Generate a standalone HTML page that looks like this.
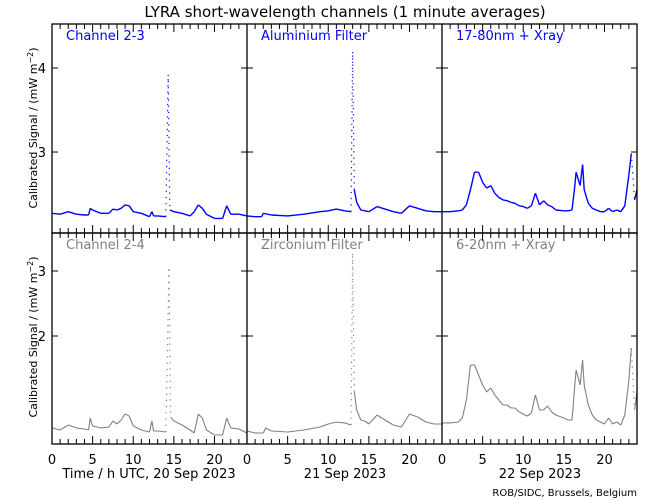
<!DOCTYPE html>
<html><head><meta charset="utf-8"><style>
body{margin:0;background:#fff}
svg{display:block;font-family:"DejaVu Sans","Liberation Sans",sans-serif}
</style></head><body>
<svg id="c" width="650" height="500" xmlns="http://www.w3.org/2000/svg">
<rect width="650" height="500" fill="#fff"/>
<text x="345" y="17" font-size="15" text-anchor="middle">LYRA short-wavelength channels (1 minute averages)</text>
<text transform="translate(37,128) rotate(-90)" font-size="11" text-anchor="middle">Calibrated Signal / (mW m<tspan dy="-4" font-size="8">−2</tspan><tspan dy="4">)</tspan></text>
<text transform="translate(37,337) rotate(-90)" font-size="11" text-anchor="middle">Calibrated Signal / (mW m<tspan dy="-4" font-size="8">−2</tspan><tspan dy="4">)</tspan></text>
<text x="149" y="478" font-size="13" text-anchor="middle">Time / h UTC, 20 Sep 2023</text>
<text x="345" y="478" font-size="13" text-anchor="middle">21 Sep 2023</text>
<text x="540" y="478" font-size="13" text-anchor="middle">22 Sep 2023</text>
<text x="637" y="496" font-size="10" text-anchor="end">ROB/SIDC, Brussels, Belgium</text>
<g id="plots"></g>
</svg>
<script>
// hours and values per panel
const hoursA=[0,1,2,3,4,4.5,4.7,5,6,7,7.5,8,8.5,9,9.5,10,11,12,12.3,12.5,13,14,14.3,14.5,15,16,17,17.5,18,18.5,19,20,21,21.5,22,23,24];
const valsA=[2.27,2.26,2.29,2.26,2.25,2.25,2.33,2.31,2.27,2.27,2.32,2.31,2.33,2.37,2.36,2.29,2.27,2.23,2.29,2.24,2.24,2.23,3.92,2.31,2.29,2.27,2.24,2.29,2.37,2.33,2.26,2.21,2.21,2.36,2.26,2.26,2.24];
const hoursB=[0,1,1.8,2,3,5,7,9,10,11,12,12.8,13.0,13.2,13.5,14,14.5,15,16,17,18,19,20,21,22,23,24];
const valsB=[2.24,2.23,2.23,2.27,2.25,2.24,2.26,2.29,2.30,2.32,2.30,2.29,4.19,2.55,2.40,2.31,2.30,2.29,2.35,2.32,2.29,2.27,2.36,2.33,2.30,2.29,2.29];
const hoursC=[0,1,2,2.5,3,3.5,4,4.5,5,5.5,6,6.5,7,7.5,8,8.5,9,9.5,10,10.5,11,11.5,12,12.5,13,13.5,14,15,15.5,16,16.3,16.5,17,17.3,17.5,18,18.5,19,19.5,20,20.5,21,21.5,22,22.5,23,23.3,23.7,24];
const valsC=[2.29,2.29,2.30,2.31,2.37,2.55,2.76,2.76,2.64,2.57,2.60,2.51,2.46,2.43,2.42,2.40,2.39,2.36,2.35,2.33,2.36,2.51,2.37,2.42,2.37,2.35,2.31,2.30,2.30,2.31,2.55,2.76,2.60,2.85,2.55,2.39,2.33,2.31,2.29,2.29,2.33,2.29,2.31,2.29,2.36,2.73,2.98,2.43,2.55];
const hoursD=[0,1,2,3,4,4.5,4.7,5,6,7,7.5,8,8.5,9,9.5,10,11,12,12.3,12.5,13,14,14.4,14.6,15,16,17,17.5,18,18.5,19,20,21,21.5,22,23,24];
const valsD=[0.585,0.554,0.631,0.585,0.569,0.554,0.738,0.615,0.585,0.6,0.692,0.646,0.708,0.80,0.769,0.615,0.554,0.523,0.692,0.538,0.538,0.523,3.03,0.75,0.692,0.631,0.554,0.508,0.80,0.738,0.554,0.477,0.477,0.738,0.585,0.569,0.508];
const hoursE=[0,1,2,2.3,3,5,7,9,10,11,12,12.8,13.0,13.2,13.5,14,14.5,15,16,17,18,19,20,21,22,23,24];
const valsE=[0.538,0.508,0.508,0.585,0.538,0.523,0.554,0.6,0.646,0.677,0.662,0.631,3.26,1.14,0.862,0.708,0.692,0.646,0.785,0.708,0.631,0.6,0.80,0.754,0.677,0.646,0.646];
const hoursF=[0,1,2,2.5,3,3.5,4,4.5,5,5.5,6,6.5,7,7.5,8,8.5,9,9.5,10,10.5,11,11.5,12,12.5,13,13.5,14,15,15.5,16,16.3,16.5,17,17.3,17.5,18,18.5,19,19.5,20,20.5,21,21.5,22,22.5,23,23.3,23.7,24];
const valsF=[0.662,0.662,0.677,0.738,1.015,1.554,1.554,1.4,1.246,1.138,1.2,1.092,1.015,0.938,0.938,0.892,0.892,0.831,0.8,0.769,0.815,1.092,0.862,0.862,0.923,0.831,0.785,0.738,0.708,0.708,1.169,1.477,1.246,1.631,1.246,0.938,0.785,0.708,0.677,0.646,0.738,0.646,0.677,0.631,0.785,1.323,1.815,0.862,1.138];
const labels=["Channel 2-3","Aluminium Filter","17-80nm + Xray","Channel 2-4","Zirconium Filter","6-20nm + Xray"];
const yTicksTop=[3,4];
const yTicksBottom=[2,3];
const xTickLabels=[0,5,10,15,20];

const NS="http://www.w3.org/2000/svg";
const g=document.getElementById('plots');
const colX=[52,247,442], W=195;
const rows=[{top:24,bot:233,min:2.036,max:4.524,color:"#0000ff",ticks:yTicksTop},
            {top:233,bot:444,min:0.338,max:3.585,color:"#808080",ticks:yTicksBottom}];
const series=[[hoursA,valsA],[hoursB,valsB],[hoursC,valsC],[hoursD,valsD],[hoursE,valsE],[hoursF,valsF]];
function mk(t,a){const e=document.createElementNS(NS,t);for(const k in a)e.setAttribute(k,a[k]);g.appendChild(e);return e;}
function xs(c,h){return colX[c]+h/24*W;}
function ys(r,v){const R=rows[r];return R.bot-(v-R.min)/(R.max-R.min)*(R.bot-R.top);}
for(let r=0;r<2;r++)for(let c=0;c<3;c++){
  const i=r*3+c,R=rows[r];
  const [hs,vs]=series[i];
  let solid="",dotted="";
  for(let k=1;k<hs.length;k++){
    const x0=xs(c,hs[k-1]),y0=ys(r,vs[k-1]),x1=xs(c,hs[k]),y1=ys(r,vs[k]);
    const seg="M"+x0.toFixed(1)+" "+y0.toFixed(1)+"L"+x1.toFixed(1)+" "+y1.toFixed(1);
    if(Math.abs(y1-y0)>40) dotted+=seg; else solid+=seg;
  }
  const p=mk('path',{d:solid,fill:"none",stroke:R.color,"stroke-width":r==0?1.4:1.1,"stroke-linejoin":"round"});
  
  
  const q=mk('path',{d:dotted,fill:"none",stroke:R.color,"stroke-width":1.2,"stroke-dasharray":"1.2 5"});
  
  
  const t=mk('text',{x:colX[c]+14,y:R.top+16,"font-size":13,fill:R.color});
  t.textContent=labels[i];
  
  
}
// frames
for(let r=0;r<2;r++){const R=rows[r];
  const f=mk('rect',{x:52,y:R.top,width:585,height:R.bot-R.top,fill:"none",stroke:"#000","stroke-width":1.3});
  
  
  for(let c=1;c<3;c++){const l=mk('line',{x1:colX[c],x2:colX[c],y1:R.top,y2:R.bot,stroke:"#000","stroke-width":1.3});
    
    }
  for(const v of R.ticks){const y=ys(r,v);
    for(let c=0;c<4;c++){const x=c<3?colX[c]:637;
      const tk=mk('line',{x1:x-(c>0?6:0),x2:x+(c<3?6:0),y1:y,y2:y,stroke:"#000"});
      
      }
    const tl=mk('text',{x:46,y:y+5,"font-size":13,"text-anchor":"end"});tl.textContent=v;
    
    }
  for(let c=0;c<3;c++)for(let h=1;h<24;h++){const x=xs(c,h),len=h%5==0?8:5;
    const a=mk('line',{x1:x,x2:x,y1:R.bot,y2:R.bot-len,stroke:"#000"});
    
    
    const b=mk('line',{x1:x,x2:x,y1:R.top,y2:R.top+len,stroke:"#000"});
    
    }
}
for(let c=0;c<3;c++)for(const h of xTickLabels){
  const t=mk('text',{x:xs(c,h),y:464,"font-size":13,"text-anchor":"middle"});t.textContent=h;
  
  }
</script>
</body></html>
